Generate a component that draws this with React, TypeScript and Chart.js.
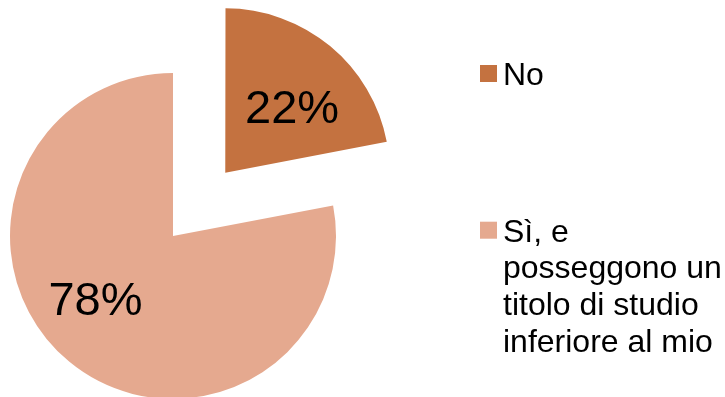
import React, { useEffect, useRef } from "react";
import { Chart, registerables } from "chart.js";

Chart.register(...registerables);

const categories = ["No", "Sì, e posseggono un titolo di studio inferiore al mio"];
const values = [22, 78];
const valueLabels = ["22%", "78%"];
const colors = ["#C47240", "#E5A98F"];
// Chart.js draws an arc's offset at a quarter of this value (82px explode)
const explode = [328, 0];

const FONT = "'Liberation Sans', Arial, sans-serif";
const LABEL_SIZE = 47;
const LABEL_DIST = [0.58, 0.61];
const LABEL_TWEAK = [5.4, 11.6];

const labelPlugin = {
  id: "sliceLabels",
  afterDatasetsDraw(chart: any) {
    const ctx = chart.ctx;
    const meta = chart.getDatasetMeta(0);
    ctx.save();
    ctx.font = `${LABEL_SIZE}px ${FONT}`;
    ctx.fillStyle = "#000";
    ctx.textAlign = "center";
    ctx.textBaseline = "alphabetic";
    meta.data.forEach((arc: any, i: number) => {
      const { x, y, startAngle, endAngle, outerRadius } = arc.getProps(
        ["x", "y", "startAngle", "endAngle", "outerRadius"],
        true
      );
      const off = (arc.options.offset || 0) / 4;
      const mid = (startAngle + endAngle) / 2;
      const cx = x + Math.cos(mid) * off;
      const cy = y + Math.sin(mid) * off;
      const a = mid + (LABEL_TWEAK[i] * Math.PI) / 180;
      const r = outerRadius * LABEL_DIST[i];
      ctx.fillText(valueLabels[i], cx + Math.cos(a) * r, cy + Math.sin(a) * r + LABEL_SIZE * 0.358);
    });
    ctx.restore();
  },
};

const LEGEND_X = 480;
const LEGEND_TEXT_X = 503;
const LEGEND_BASELINES = [85, 241.7];
const LEGEND_FONT = 32;
const LEGEND_LINE = 36.7;
const LEGEND_MAXW = 222;

const legendPlugin = {
  id: "customLegend",
  afterDraw(chart: any) {
    const ctx = chart.ctx;
    const labels: string[] = chart.data.labels;
    const bg: string[] = chart.data.datasets[0].backgroundColor;
    ctx.save();
    ctx.font = `${LEGEND_FONT}px ${FONT}`;
    ctx.textAlign = "left";
    ctx.textBaseline = "alphabetic";
    labels.forEach((label, i) => {
      const base = LEGEND_BASELINES[i];
      ctx.fillStyle = bg[i];
      ctx.fillRect(LEGEND_X, base - 20, 17, 17);
      const words = label.split(" ");
      const lines: string[] = [];
      let cur = "";
      words.forEach((w) => {
        const test = cur ? cur + " " + w : w;
        if (cur && ctx.measureText(test).width > LEGEND_MAXW) {
          lines.push(cur);
          cur = w;
        } else cur = test;
      });
      if (cur) lines.push(cur);
      ctx.fillStyle = "#000";
      lines.forEach((ln, j) => ctx.fillText(ln, LEGEND_TEXT_X, base + j * LEGEND_LINE));
    });
    ctx.restore();
  },
};

export default function App() {
  const ref = useRef<HTMLCanvasElement>(null);
  useEffect(() => {
    if (!ref.current) return;
    const chart = new Chart(ref.current, {
      type: "pie",
      data: {
        labels: categories,
        datasets: [
          {
            data: values,
            backgroundColor: colors,
            borderWidth: 0,
            offset: explode,
            hoverOffset: 0,
            clip: false,
          } as any,
        ],
      },
      options: {
        responsive: false,
        animation: false,
        devicePixelRatio: 1,
        radius: 163,
        cutout: "0%",
        layout: { padding: { left: 0, top: 0, right: 379, bottom: 228 } },
        plugins: {
          legend: { display: false },
          tooltip: { enabled: false },
        },
      } as any,
      plugins: [labelPlugin, legendPlugin],
    });
    return () => chart.destroy();
  }, []);
  return (
    <div
      style={{
        position: "absolute",
        left: 0,
        top: 0,
        width: 725,
        height: 397,
        overflow: "hidden",
        background: "#fff",
      }}
    >
      <canvas ref={ref} width={725} height={700} style={{ display: "block" }} />
    </div>
  );
}
